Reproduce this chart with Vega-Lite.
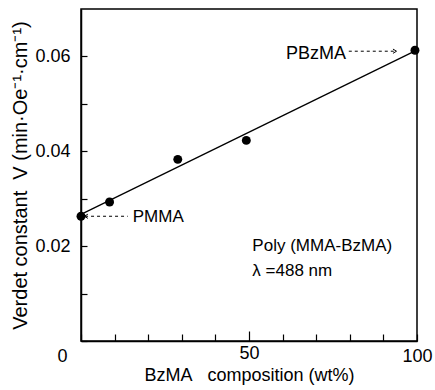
{
  "$schema": "https://vega.github.io/schema/vega-lite/v6.json",
  "width": 336,
  "height": 332,
  "autosize": {"type": "none"},
  "padding": {"left": 81, "top": 9, "right": 18, "bottom": 49},
  "background": "white",
  "config": {
    "view": {"stroke": "black", "strokeWidth": 1.5},
    "font": "Liberation Sans",
    "axis": {"grid": false, "domainColor": "black", "domainWidth": 1.5, "tickColor": "black", "tickWidth": 1.2,
             "labelFont": "Liberation Sans", "labelFontSize": 18, "labelColor": "black",
             "titleFont": "Liberation Sans", "titleFontSize": 19, "titleFontWeight": "normal", "titleColor": "black"}
  },
  "encoding": {
    "x": {"field": "x", "type": "quantitative", "scale": {"domain": [0, 100], "nice": false},
          "axis": {"values": [0, 10, 20, 30, 40, 50, 60, 70, 80, 90, 100],
                   "labelOverlap": false, "labelFlush": false,
                   "labelExpr": "(datum.value == 0 || datum.value == 50 || datum.value == 100) ? datum.label : ''",
                   "tickSize": {"condition": {"test": "datum.value == 50", "value": -10}, "value": -7},
                   "labelPadding": 13,
                   "labelOffset": {"condition": {"test": "datum.value == 0", "value": -19}, "value": 0},
                   "title": "BzMA\u00a0\u00a0\u00a0composition (wt%)", "titleFontSize": 18, "titlePadding": 1}},
    "y": {"field": "y", "type": "quantitative", "scale": {"domain": [0, 0.07], "nice": false},
          "axis": {"values": [0, 0.01, 0.02, 0.03, 0.04, 0.05, 0.06],
                   "labelOverlap": false, "labelFlush": false,
                   "format": ".2f",
                   "labelExpr": "(round(datum.value * 100) % 2 == 0 && datum.value > 0.001) ? datum.label : ''",
                   "tickSize": -6, "labelPadding": 17,
                   "title": "Verdet constant\u00a0\u00a0V (min·Oe⁻¹·cm⁻¹)", "titleFontSize": 20, "titlePadding": 4}}
  },
  "layer": [
    {
      "data": {"values": [
        {"x": 0, "y": 0.0267},
        {"x": 98.7, "y": 0.0609}
      ]},
      "mark": {"type": "line", "color": "black", "strokeWidth": 1.3, "clip": false}
    },
    {
      "data": {"values": [
        {"x": 0, "y": 0.0263},
        {"x": 8.5, "y": 0.0293},
        {"x": 28.8, "y": 0.0383},
        {"x": 49.2, "y": 0.0423},
        {"x": 99.4, "y": 0.0613}
      ]},
      "mark": {"type": "point", "filled": true, "color": "black", "size": 80, "opacity": 1, "clip": false}
    },
    {
      "data": {"values": [
        {"x": 79.7, "x2": 93.7, "y": 0.0611},
        {"x": 1.2, "x2": 13.9, "y": 0.0263}
      ]},
      "mark": {"type": "rule", "color": "black", "strokeWidth": 1, "strokeDash": [3, 3]},
      "encoding": {
        "x2": {"field": "x2"}
      }
    },
    {
      "data": {"values": [
        {"x": 93.9, "y": 0.0611}
      ]},
      "mark": {"type": "point", "shape": "M -1 -0.6 L 0 0 L -1 0.6", "filled": false, "color": "black", "strokeWidth": 1, "size": 50, "opacity": 1}
    },
    {
      "data": {"values": [
        {"x": 1.0, "y": 0.0263}
      ]},
      "mark": {"type": "point", "shape": "M 1 -0.6 L 0 0 L 1 0.6", "filled": false, "color": "black", "strokeWidth": 1, "size": 50, "opacity": 1}
    },
    {
      "data": {"values": [
        {"x": 78.9, "y": 0.0606, "label": "PBzMA"}
      ]},
      "mark": {"type": "text", "align": "right", "baseline": "middle", "fontSize": 18, "color": "black"},
      "encoding": {
        "text": {"field": "label"}
      }
    },
    {
      "data": {"values": [
        {"x": 15.4, "y": 0.0261, "label": "PMMA"},
        {"x": 51, "y": 0.0200, "label": "Poly (MMA-BzMA)"},
        {"x": 51, "y": 0.0147, "label": "λ =488 nm"}
      ]},
      "mark": {"type": "text", "align": "left", "baseline": "middle", "fontSize": 17, "color": "black"},
      "encoding": {
        "text": {"field": "label"}
      }
    }
  ]
}
